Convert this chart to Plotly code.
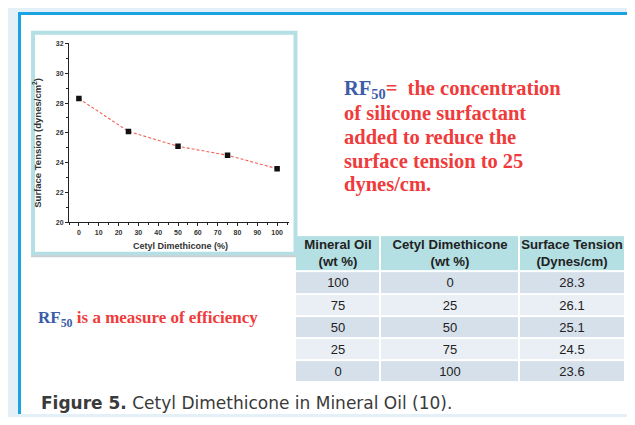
import plotly.graph_objects as go

# ---- data ----
cetyl_pct = [0, 25, 50, 75, 100]
mineral_pct = [100, 75, 50, 25, 0]
surface_tension = [28.3, 26.1, 25.1, 24.5, 23.6]
table_headers = ["Mineral Oil<br>(wt %)",
                 "Cetyl Dimethicone<br>(wt %)",
                 "Surface Tension<br>(Dynes/cm)"]
x_ticks = list(range(0, 101, 10))
y_ticks = list(range(20, 33, 2))

# page has an 8px body margin: figure occupies (8,8) onward; keep it inside the window
OFF = 8
W, H = 635 - OFF, 425 - 2 * OFF
def px(x):
    return (x - OFF) / W
def py(y):
    return 1 - (y - OFF) / H

fig = go.Figure()

fig.add_trace(go.Scatter(
    x=cetyl_pct, y=surface_tension, mode="lines",
    line=dict(color="#f0625a", width=1.1, dash="3px,2px"),
    hoverinfo="skip", showlegend=False))
fig.add_trace(go.Scatter(
    x=cetyl_pct, y=surface_tension, mode="markers",
    marker=dict(symbol="square", size=5.5, color="#111111"),
    showlegend=False))

# ---- table drawn as a heatmap grid ----
col_edges = [0, 85, 224, 330]          # pixel widths of the three columns
row_edges = [0, 37, 59.6, 82.2, 104.8, 127.4, 150]
header_cells = ["<span style='font-size:13.2px'><b>" + h.replace("<br>", "</b><br><b>") + "</b></span>"
                for h in table_headers]
body_rows = [[str(m), str(c), f"{s:.1f}"] for m, c, s in zip(mineral_pct, cetyl_pct, surface_tension)]
table_text = [header_cells] + body_rows
table_z = [[0, 0, 0]] + [[1 + (i % 2)] * 3 for i in range(len(body_rows))]
fig.add_trace(go.Heatmap(
    x=col_edges, y=row_edges, z=table_z, text=table_text, texttemplate="%{text}",
    textfont=dict(family="Liberation Sans, Arial", size=13, color="#222"),
    colorscale=[[0, "#b4dfe3"], [0.5, "#d6e0ea"], [1, "#eaeff5"]], zmin=0, zmax=2,
    xgap=2, ygap=2, showscale=False, hoverinfo="skip",
    xaxis="x2", yaxis="y2"))

shapes = [
    dict(type="rect", xref="paper", yref="paper", x0=px(19.5), x1=1, y0=0, y1=py(9.5),
         fillcolor="white", line=dict(width=0), layer="below"),
    dict(type="line", xref="paper", yref="paper", x0=px(19.5), x1=px(19.5), y0=0, y1=py(8),
         line=dict(color="#1aa3e0", width=3)),
    dict(type="line", xref="paper", yref="paper", x0=px(18), x1=1, y0=py(9.5), y1=py(9.5),
         line=dict(color="#1aa3e0", width=3)),
    dict(type="rect", xref="paper", yref="paper", x0=px(33), x1=px(295.5), y0=py(254), y1=py(29),
         fillcolor="white", line=dict(color="#b3dfe5", width=4), layer="below"),
    dict(type="line", xref="paper", yref="paper", x0=px(31), x1=px(297), y0=py(256.5), y1=py(256.5),
         line=dict(color="#c9cfd3", width=2)),
]

red = "#ef3b3b"
blue = "#3c5ca8"
serif = "Liberation Serif, Times New Roman, serif"
ann = []
right_lines = [
    f"<span style='color:{blue}'>RF<sub>50</sub></span>=  the concentration",
    "of silicone surfactant",
    "added to reduce the",
    "surface tension to 25",
    "dynes/cm.",
]
right_y = [87, 111, 135, 160, 184]
for t, yy in zip(right_lines, right_y):
    ann.append(dict(text=t, xref="paper", yref="paper", x=px(342), y=py(yy),
                    xanchor="left", yanchor="middle", showarrow=False,
                    font=dict(family=serif, size=20.5, color=red, weight="bold")))
ann.append(dict(text=f"<span style='color:{blue}'>RF<sub>50</sub></span> is a measure of efficiency",
                xref="paper", yref="paper", x=px(36), y=py(320), xanchor="left", yanchor="middle",
                showarrow=False, font=dict(family=serif, size=17, color=red, weight="bold")))
ann.append(dict(text="<b>Figure 5.</b> Cetyl Dimethicone in Mineral Oil (10).",
                xref="paper", yref="paper", x=px(39), y=py(406), xanchor="left", yanchor="middle",
                showarrow=False, font=dict(family="DejaVu Sans, sans-serif", size=17, color="#3a3a3a")))
ann.append(dict(text="Surface Tension (dynes/cm<sup>2</sup>)", xref="paper", yref="paper",
                x=px(37), y=py(141), textangle=-90, xanchor="center", yanchor="middle",
                showarrow=False, font=dict(family="Liberation Sans, Arial", size=9.5, color="#333", weight="bold")))
ann.append(dict(text="Cetyl Dimethicone (%)", xref="paper", yref="paper",
                x=px(180), y=py(246), xanchor="center", yanchor="middle",
                showarrow=False, font=dict(family="Liberation Sans, Arial", size=9, color="#333", weight="bold")))

tickfont = dict(family="Liberation Sans, Arial", size=7, color="#333", weight="bold")
fig.update_layout(
    width=W, height=H, autosize=False,
    margin=dict(l=0, r=0, t=0, b=0),
    paper_bgcolor="#e3f0f8", plot_bgcolor="white",
    shapes=shapes, annotations=ann, showlegend=False,
    xaxis=dict(domain=[px(69), px(289)], range=[-5, 106], tickvals=x_ticks,
               showgrid=False, zeroline=False, showline=True, linecolor="#222", linewidth=1,
               ticks="outside", ticklen=3, tickcolor="#222", tickfont=tickfont,
               minor=dict(ticks="outside", dtick=5, ticklen=2, tickcolor="#222"),
               anchor="y"),
    yaxis=dict(domain=[py(222), py(40)], range=[20, 32], tickvals=y_ticks,
               showgrid=False, zeroline=False, showline=True, linecolor="#222", linewidth=1,
               ticks="outside", ticklen=3, tickcolor="#222", tickfont=tickfont,
               minor=dict(ticks="outside", dtick=1, ticklen=2, tickcolor="#222"),
               anchor="x"),
    xaxis2=dict(domain=[px(295), 1], range=[0, 340], visible=False, anchor="y2"),
    yaxis2=dict(domain=[py(385), py(235)], range=[150, 0], visible=False, anchor="x2"),
)

fig.write_html("out.html")
